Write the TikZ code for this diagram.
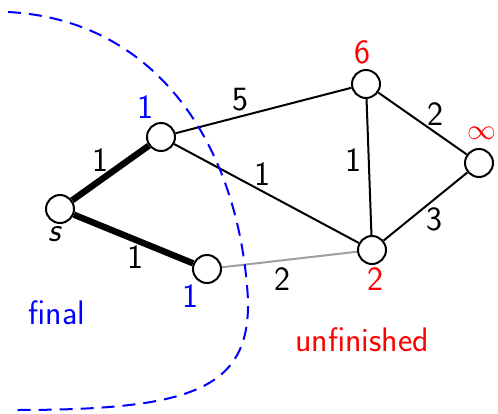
\documentclass[tikz,border=0pt]{standalone}
\usetikzlibrary{positioning}
\tikzset{vert/.style={draw,circle,line width=1pt,fill=white,minimum size=14pt,inner sep=0pt},
         wt/.style={font=\sffamily\fontsize{17}{20}\selectfont,inner sep=2pt},
         fin/.style={wt,blue},
         unf/.style={wt,red},
         edg/.style={line width=1pt},
         tree/.style={line width=3.2pt},
         cut/.style={blue,line width=1pt,dash pattern=on 6.5pt off 4pt}}
\begin{document}
\begin{tikzpicture}[x=0.5pt,y=-0.5pt]
 \useasboundingbox (0,0) rectangle (498,413);
 % vertices
 \node[vert] (s) at (60,209) {};
 \node[vert] (a) at (161,137) {};
 \node[vert] (b) at (207,269) {};
 \node[vert] (c) at (366,84) {};
 \node[vert] (d) at (372,250) {};
 \node[vert] (e) at (479,163) {};
 % edges
 \draw[tree] (s) -- node[wt,pos=0.5,above left=-4pt] (w1) {1} (a);
 \draw[tree] (s) -- node[wt,pos=0.6,below left=-4pt] (w2) {1} (b);
 \draw[edg] (a) -- node[wt,pos=0.37,above=0pt] (w3) {5} (c);
 \draw[edg] (a) -- node[wt,pos=0.43,above right=-3pt] (w4) {1} (d);
 \draw[edg] (c) -- node[wt,pos=0.45,left=1pt] (w5) {1} (d);
 \draw[edg] (c) -- node[wt,pos=0.55,above right=-3pt] (w6) {2} (e);
 \draw[edg] (d) -- node[wt,pos=0.5,below right=-3pt] (w7) {3} (e);
 \draw[edg,gray!75] (b) -- node[wt,black,pos=0.45,below=1pt] (w8) {2} (d);
 % distances
 \node[wt] (sl) at (55,234) {\textit{s}};
 \node[fin] (da) at (145,107) {1};
 \node[fin] (db) at (190,296) {1};
 \node[unf] (dc) at (362,52) {6};
 \node[unf] (dd) at (375,279) {2};
 \node[unf] (de) at (482,133) {\Large$\infty$};
 % cut
 \draw[cut] (8,12) .. controls (160,20) and (240,150) .. (248,300)
   .. controls (250,390) and (190,410) .. (15,410);
 \node[fin] (lf) at (57,313) {final};
 \node[unf] (lu) at (362,340) {unfinished};
\end{tikzpicture}
\end{document}
